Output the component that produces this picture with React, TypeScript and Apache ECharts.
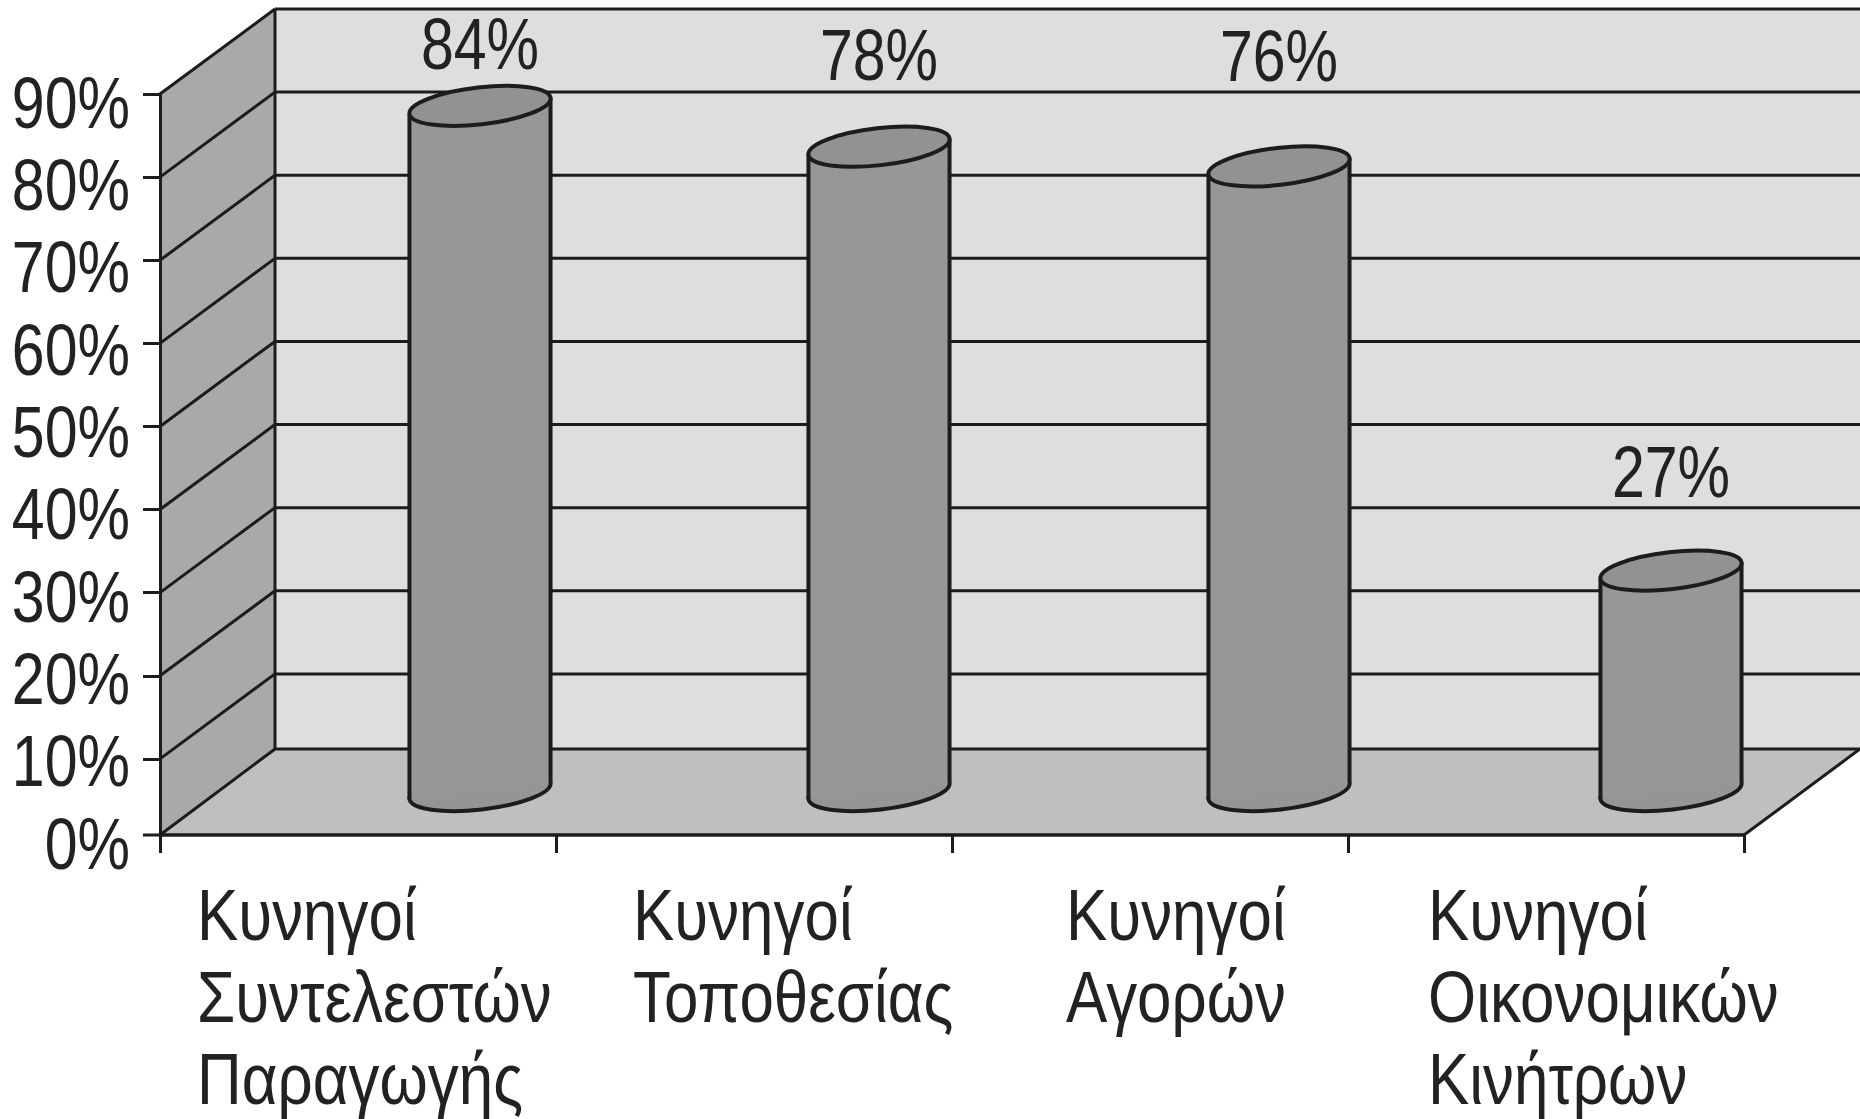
import React, { useEffect, useRef } from "react";
import * as echarts from "echarts";

const categories = ["Κυνηγοί\nΣυντελεστών\nΠαραγωγής", "Κυνηγοί\nΤοποθεσίας", "Κυνηγοί\nΑγορών", "Κυνηγοί\nΟικονομικών\nΚινήτρων"];
const values = [84, 78, 76, 27];
const gridTicks = [10, 20, 30, 40, 50, 60, 70, 80, 90];
const tickLabels = [0, 10, 20, 30, 40, 50, 60, 70, 80, 90];
const barShift = [122, 125, 129, 125];
const barLift = [38, 47, 44, 47];
const labelLift = [100, 139, 155, 146];
const categoryLabelShift = [-161, -121, -84, -118];

const FONT = '"Liberation Sans", sans-serif';
const INK = "#1c1c1c";
const TEXT = "#222222";
const DX = 115;
const DY = 85;
const FLOOR_RAISE = 7;
const A = 71;
const B = 18.5;
const THETA = (6.5 * Math.PI) / 180;

function App() {
  const ref = useRef<HTMLDivElement>(null);
  useEffect(() => {
    document.body.style.margin = "0";
    const chart = echarts.init(ref.current!, undefined, { renderer: "svg" });
    const line = (x1: number, y1: number, x2: number, y2: number, w = 3) => ({
      type: "line",
      shape: { x1, y1, x2, y2 },
      style: { stroke: INK, lineWidth: w },
    });
    const poly = (points: number[][], fill: string) => ({
      type: "polygon",
      shape: { points },
      style: { fill },
    });
    const ellipse = (cx: number, cy: number, fill: string) => ({
      type: "ellipse",
      x: cx,
      y: cy,
      rotation: THETA,
      shape: { cx: 0, cy: 0, rx: A, ry: B },
      style: { fill, stroke: INK, lineWidth: 4 },
    });
    chart.setOption({
      animation: false,
      backgroundColor: "#ffffff",
      grid: { left: 160, right: 116, top: 94, height: 748, outerBoundsMode: "none" },
      xAxis: {
        type: "category",
        data: categories,
        offset: -FLOOR_RAISE,
        z: 5,
        axisLine: { lineStyle: { color: INK, width: 3.5 } },
        axisTick: { show: true, length: 18, alignWithLabel: false, lineStyle: { color: INK, width: 3 } },
        axisLabel: { show: false },
      },
      yAxis: {
        type: "value",
        min: 0,
        max: 90,
        interval: 10,
        z: 5,
        splitLine: { show: false },
        axisLine: { show: true, lineStyle: { color: INK, width: 3 } },
        axisTick: { show: true, length: 17, customValues: gridTicks, lineStyle: { color: INK, width: 3 } },
        axisLabel: { show: false },
      },
      series: [
        {
          type: "custom",
          name: "walls",
          z: 1,
          silent: true,
          data: [[0, 0]],
          encode: { x: 0, y: 1 },
          renderItem: (params: any, api: any) => {
            const c = params.coordSys;
            const fx0 = c.x;
            const fx1 = c.x + c.width;
            const fb = api.coord([0, 0])[1] - FLOOR_RAISE;
            const ft = api.coord([0, 90])[1];
            const bx0 = fx0 + DX;
            const bx1 = fx1 + DX + 1;
            const bb = fb - DY - 1;
            const bt = ft - DY;
            return {
              type: "group",
              children: [
                poly([[bx0, bt], [bx1, bt], [bx1, bb], [bx0, bb]], "#dedede"),
                poly([[fx0, fb], [fx0, ft], [bx0, bt], [bx0, bb]], "#a9a9a9"),
                poly([[fx0, fb], [bx0, bb], [bx1, bb], [fx1, fb]], "#bfbfbf"),
                line(bx0, bt, bx0, bb),
                line(fx0, fb, bx0, bb),
                line(bx0, bb, bx1, bb),
                line(fx1, fb, bx1, bb),
                line(fx0 - 17, fb, fx0, fb),
              ],
            };
          },
        },
        {
          type: "custom",
          name: "gridlines",
          z: 2,
          silent: true,
          data: gridTicks.map((t) => [0, t]),
          encode: { x: 0, y: 1 },
          renderItem: (params: any, api: any) => {
            const c = params.coordSys;
            const y = api.coord([0, api.value(1)])[1];
            const bx0 = c.x + DX;
            return {
              type: "group",
              children: [line(c.x, y, bx0, y - DY), line(bx0, y - DY, c.x + c.width + DX + 1, y - DY)],
            };
          },
        },
        {
          type: "custom",
          name: "bars",
          z: 3,
          silent: true,
          data: values.map((v, i) => [i, v]),
          encode: { x: 0, y: 1 },
          renderItem: (params: any, api: any) => {
            const i = api.value(0);
            const v = api.value(1);
            const [x0, yBase] = api.coord([i, 0]);
            const [, yTop] = api.coord([i, v]);
            const cx = x0 + barShift[i];
            const cyT = yTop - barLift[i];
            const cyB = yBase - 51;
            const ex = A * Math.cos(THETA);
            const ey = A * Math.sin(THETA);
            return {
              type: "group",
              children: [
                ellipse(cx, cyB, "#959595"),
                poly([[cx - ex, cyT + ey], [cx + ex, cyT - ey], [cx + ex, cyB - ey], [cx - ex, cyB + ey]], "#979797"),
                line(cx - ex, cyT + ey, cx - ex, cyB + ey, 4),
                line(cx + ex, cyT - ey, cx + ex, cyB - ey, 4),
                ellipse(cx, cyT, "#929292"),
              ],
            };
          },
        },
        {
          type: "custom",
          name: "value labels",
          z: 4,
          silent: true,
          data: values.map((v, i) => [i, v]),
          encode: { x: 0, y: 1 },
          renderItem: (params: any, api: any) => {
            const i = api.value(0);
            const v = api.value(1);
            const [x0, y] = api.coord([i, v]);
            return {
              type: "text",
              x: x0 + barShift[i],
              y: y - labelLift[i],
              scaleX: 0.82,
              style: {
                text: `${v}%`,
                align: "center",
                verticalAlign: "middle",
                fontFamily: FONT,
                fontSize: 72,
                fill: TEXT,
              },
            };
          },
        },
        {
          type: "custom",
          name: "tick labels",
          z: 4,
          silent: true,
          data: tickLabels.map((t) => [0, t]),
          encode: { x: 0, y: 1 },
          renderItem: (params: any, api: any) => {
            const t = api.value(1);
            const y = api.coord([0, t])[1];
            return {
              type: "text",
              x: params.coordSys.x - 30,
              y: y + 1.5 + t * 0.078,
              scaleX: 0.82,
              style: {
                text: `${t}%`,
                align: "right",
                verticalAlign: "middle",
                fontFamily: FONT,
                fontSize: 72,
                fill: TEXT,
              },
            };
          },
        },
        {
          type: "custom",
          name: "category labels",
          z: 4,
          silent: true,
          data: categories.map((_, i) => [i, 0]),
          encode: { x: 0, y: 1 },
          renderItem: (params: any, api: any) => {
            const i = api.value(0);
            const [x0, y] = api.coord([i, 0]);
            return {
              type: "text",
              x: x0 + categoryLabelShift[i],
              y: y + 32,
              scaleX: 0.86,
              style: {
                text: categories[i],
                align: "left",
                verticalAlign: "top",
                fontFamily: FONT,
                fontSize: 72,
                lineHeight: 82,
                fill: TEXT,
              },
            };
          },
        },
      ],
    });
    return () => chart.dispose();
  }, []);
  return <div ref={ref} style={{ position: "absolute", left: 0, top: 0, width: 1860, height: 1119 }} />;
}

export default App;
